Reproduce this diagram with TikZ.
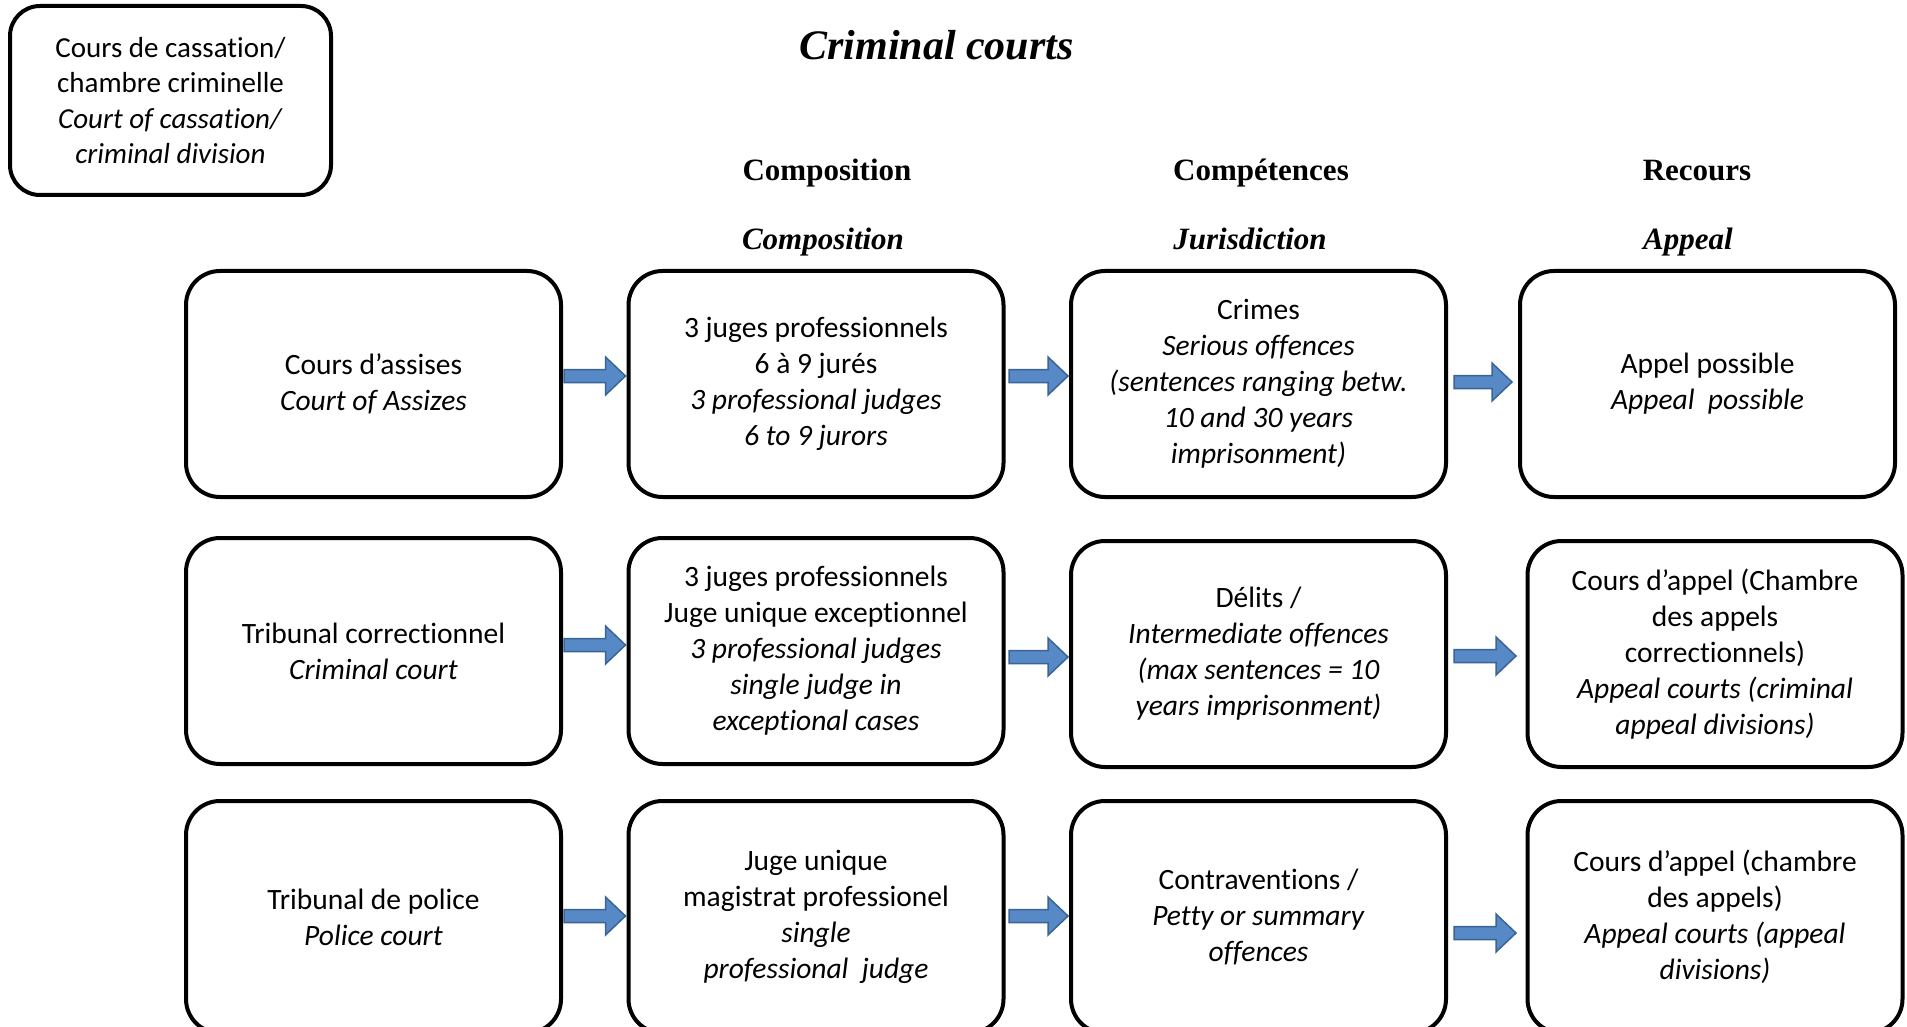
\documentclass[tikz,border=0pt]{standalone}
\usepackage{fontspec}
\setmainfont{Carlito}[Ligatures=NoCommon]
\newfontfamily\headfont{Liberation Serif}
\usetikzlibrary{calc}

\definecolor{arrowfill}{RGB}{86,137,197}
\definecolor{arrowline}{RGB}{58,100,150}

\tikzset{
  courtbox/.style={draw, line width=4pt, rounded corners=34pt, minimum width=375pt,
    minimum height=226pt, align=center, inner sep=0pt, font=\fontsize{29.5}{36}\selectfont},
  headup/.style={font=\headfont\bfseries\fontsize{31}{36}\selectfont, anchor=base},
  headit/.style={font=\headfont\bfseries\itshape\fontsize{31}{36}\selectfont, anchor=base},
  blockarrowstyle/.style={fill=arrowfill, draw=arrowline, line width=1.5pt, line join=miter},
}

% #1 from node, #2 to node, #3 vertical offset (up), #4 start gap, #5 tip gap
\newcommand{\blockarrow}[5]{%
  \path[blockarrowstyle] let \p1=(#1.east), \p2=(#2.west),
     \n1={\y1+(#3pt)}, \n2={\x1+#4pt}, \n3={\x2-#5pt}, \n4={\x2-#5pt-20pt} in
    ({\n2}, {\n1+6.5pt}) -- ({\n4}, {\n1+6.5pt}) --
    ({\n4}, {\n1+19pt}) -- ({\n3}, {\n1}) --
    ({\n4}, {\n1-19pt}) -- ({\n4}, {\n1-6.5pt}) --
    ({\n2}, {\n1-6.5pt}) -- cycle;}

\begin{document}
\begin{tikzpicture}[x=1pt, y=-1pt]
\useasboundingbox (0,0) rectangle (1907,1027);

% top-left box
\node[courtbox, minimum width=321pt, minimum height=189pt, rounded corners=30pt,
      font=\fontsize{29}{35.3}\selectfont] (cass) at (170.5,100.5)
  {Cours de cassation/\\chambre criminelle\\\textit{Court of cassation/}\\\textit{criminal division}};

% title and headings
\node[font=\headfont\bfseries\itshape\fontsize{42}{48}\selectfont, anchor=base] (title) at (936.5,60) {Criminal courts};
\node[headup] (h1) at (827,181) {Composition};
\node[headup] (h2) at (1261,181) {Compétences};
\node[headup] (h3) at (1697,181) {Recours};
\node[headit] (h1e) at (823,249.5) {Composition};
\node[headit] (h2e) at (1250,249.5) {Jurisdiction};
\node[headit] (h3e) at (1688,249.5) {Appeal};

% row 1
\node[courtbox] (r1c1) at (373.5,384) {Cours d’assises\\\textit{Court of Assizes}};
\node[courtbox] (r1c2) at (816,384) {3 juges professionnels\\6 à 9 jurés\\\textit{3 professional judges}\\\textit{6 to 9 jurors}};
\node[courtbox] (r1c3) at (1258.5,384) {Crimes\\\textit{Serious offences}\\\textit{(sentences ranging betw.}\\\textit{10 and 30 years}\\\textit{imprisonment)}};
\node[courtbox] (r1c4) at (1707.5,384) {Appel possible\\\textit{Appeal\ \ possible}};

% row 2
\node[courtbox] (r2c1) at (373.5,651) {Tribunal correctionnel\\\textit{Criminal court}};
\node[courtbox] (r2c2) at (816,651) {3 juges professionnels\\Juge unique exceptionnel\\\textit{3 professional judges}\\\textit{single judge in}\\\textit{exceptional cases}};
\node[courtbox] (r2c3) at (1258.5,654) {Délits /\\\textit{Intermediate offences}\\\textit{(max sentences = 10}\\\textit{years imprisonment)}};
\node[courtbox] (r2c4) at (1715,654) {Cours d’appel (Chambre\\des appels\\correctionnels)\\\textit{Appeal courts (criminal}\\\textit{appeal divisions)}};

% row 3
\node[courtbox, minimum height=232pt] (r3c1) at (373.5,917) {Tribunal de police\\\textit{Police court}};
\node[courtbox, minimum height=232pt] (r3c2) at (816,917) {Juge unique\\magistrat professionel\\\textit{single}\\\textit{professional\ \ judge}};
\node[courtbox, minimum height=232pt] (r3c3) at (1258.5,917) {Contraventions /\\\textit{Petty or summary}\\\textit{offences}};
\node[courtbox, minimum height=232pt] (r3c4) at (1715,917) {Cours d’appel (chambre\\des appels)\\\textit{Appeal courts (appeal}\\\textit{divisions)}};

% arrows
\blockarrow{r1c1}{r1c2}{8}{1}{1}
\blockarrow{r1c2}{r1c3}{8}{3.5}{1}
\blockarrow{r1c3}{r1c4}{2}{6}{6}
\blockarrow{r2c1}{r2c2}{6}{1}{1}
\blockarrow{r2c2}{r2c3}{-6}{3.5}{1}
\blockarrow{r2c3}{r2c4}{-2}{6}{9.5}
\blockarrow{r3c1}{r3c2}{1}{1}{1}
\blockarrow{r3c2}{r3c3}{1}{3.5}{1}
\blockarrow{r3c3}{r3c4}{-16}{6}{9.5}
\end{tikzpicture}
\end{document}
